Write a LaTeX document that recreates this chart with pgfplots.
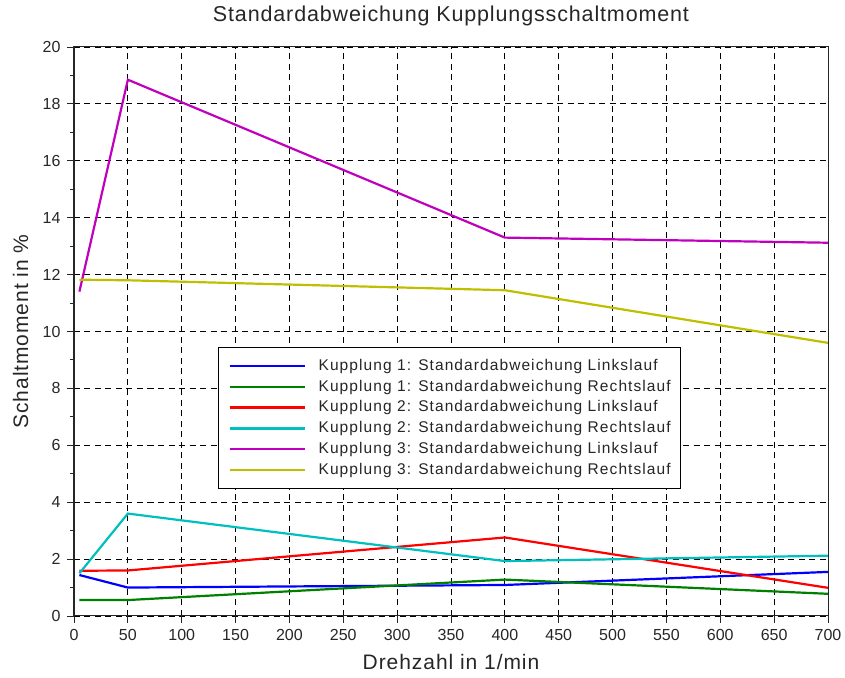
\documentclass[border=0pt]{standalone}
\usepackage{pgfplots}
\pgfplotsset{compat=1.18}
\usepackage{fontspec}
\setmainfont{Liberation Sans}
\newfontfamily\titlefont[LetterSpace=4]{Liberation Sans}
\newfontfamily\labelfont[LetterSpace=4.5]{Liberation Sans}
\newfontfamily\legendfont[LetterSpace=7]{Liberation Sans}
\definecolor{scblue}{rgb}{0,0,1}
\definecolor{scgreen}{rgb}{0,0.5,0}
\definecolor{scred}{rgb}{1,0,0}
\definecolor{sccyan}{rgb}{0,0.75,0.75}
\definecolor{scmagenta}{rgb}{0.75,0,0.75}
\definecolor{scyellow}{rgb}{0.75,0.75,0}
\definecolor{txt}{gray}{0.15}
\begin{document}
\begin{tikzpicture}
\begin{axis}[
  scale only axis,
  width=754pt, height=569pt,
  xmin=0, xmax=700, ymin=0, ymax=20,
  xtick={0,50,...,700},
  ytick={0,2,...,20},
  minor ytick={1,3,...,19},
  tick align=outside,
  major tick length=7pt,
  minor tick length=4pt,
  tick style={txt, line width=0.9pt},
  xtick pos=bottom, ytick pos=left,
  axis line style={txt, line width=1pt},
  grid=major,
  major grid style={black, dash pattern=on 6pt off 4.5pt, line width=0.8pt},
  /pgf/number format/assume math mode=true,
  tick label style={font=\fontsize{16}{16}\selectfont, text=txt},
  xticklabel style={yshift=-3pt},
  yticklabel style={xshift=-3pt},
  title={\titlefont Standardabweichung Kupplungsschaltmoment},
  title style={font=\fontsize{21.5}{21.5}\selectfont, text=txt,
    at={(axis description cs:0.5,1.0351)}, anchor=base},
  xlabel={\labelfont Drehzahl in 1/min},
  ylabel={\labelfont Schaltmoment in \%},
  label style={font=\fontsize{21}{21}\selectfont, text=txt},
  xlabel style={at={(axis description cs:0.5,-0.0949)}, anchor=base},
  ylabel style={at={(axis description cs:-0.061,0.5)}, anchor=base},
  legend style={
    at={(axis description cs:0.191,0.473)}, anchor=north west,
    font=\fontsize{15.5}{15.5}\selectfont\legendfont,
    text=txt,
    draw=black, line width=0.8pt, fill=white,
    row sep=5.3pt,
    inner xsep=10pt, inner ysep=11pt,
    nodes={inner sep=0pt, text height=12pt, text depth=3.5pt},
    legend cell align=left,
  },
  legend image code/.code={
    \draw[#1, line width=2.4pt] (0pt,0pt) -- (75pt,0pt);
    \path[draw=none, fill=none] (0pt,-1pt) rectangle (89pt,1pt);
  },
  every axis plot/.append style={line width=2.2pt},
]
% frame of the picture, measured from the axis box
\coordinate (frameBL) at (axis description cs:0,0);
\coordinate (frameTR) at (axis description cs:1,1);
\addplot[scblue] coordinates {(5,1.44) (50,1.0) (400,1.09) (700,1.55)};
\addlegendentry{Kupplung 1: Standardabweichung Linkslauf}
\addplot[scgreen] coordinates {(5,0.56) (50,0.56) (400,1.28) (700,0.78)};
\addlegendentry{Kupplung 1: Standardabweichung Rechtslauf}
\addplot[scred] coordinates {(5,1.59) (50,1.6) (400,2.76) (700,0.99)};
\addlegendentry{Kupplung 2: Standardabweichung Linkslauf}
\addplot[sccyan] coordinates {(5,1.5) (50,3.6) (400,1.93) (700,2.12)};
\addlegendentry{Kupplung 2: Standardabweichung Rechtslauf}
\addplot[scmagenta] coordinates {(5,11.4) (50,18.85) (400,13.3) (700,13.12)};
\addlegendentry{Kupplung 3: Standardabweichung Linkslauf}
\addplot[scyellow] coordinates {(5,11.82) (50,11.8) (400,11.45) (700,9.6)};
\addlegendentry{Kupplung 3: Standardabweichung Rechtslauf}
\end{axis}
% solid box around the plot area
\draw[txt, line width=1pt] (frameBL) rectangle (frameTR);
\pgfresetboundingbox
\path (frameBL) ++(-74pt,-62pt) coordinate (pageBL);
\path (frameTR) ++(17pt,47pt) coordinate (pageTR);
\path (pageBL) rectangle (pageTR);
\end{tikzpicture}
\end{document}
